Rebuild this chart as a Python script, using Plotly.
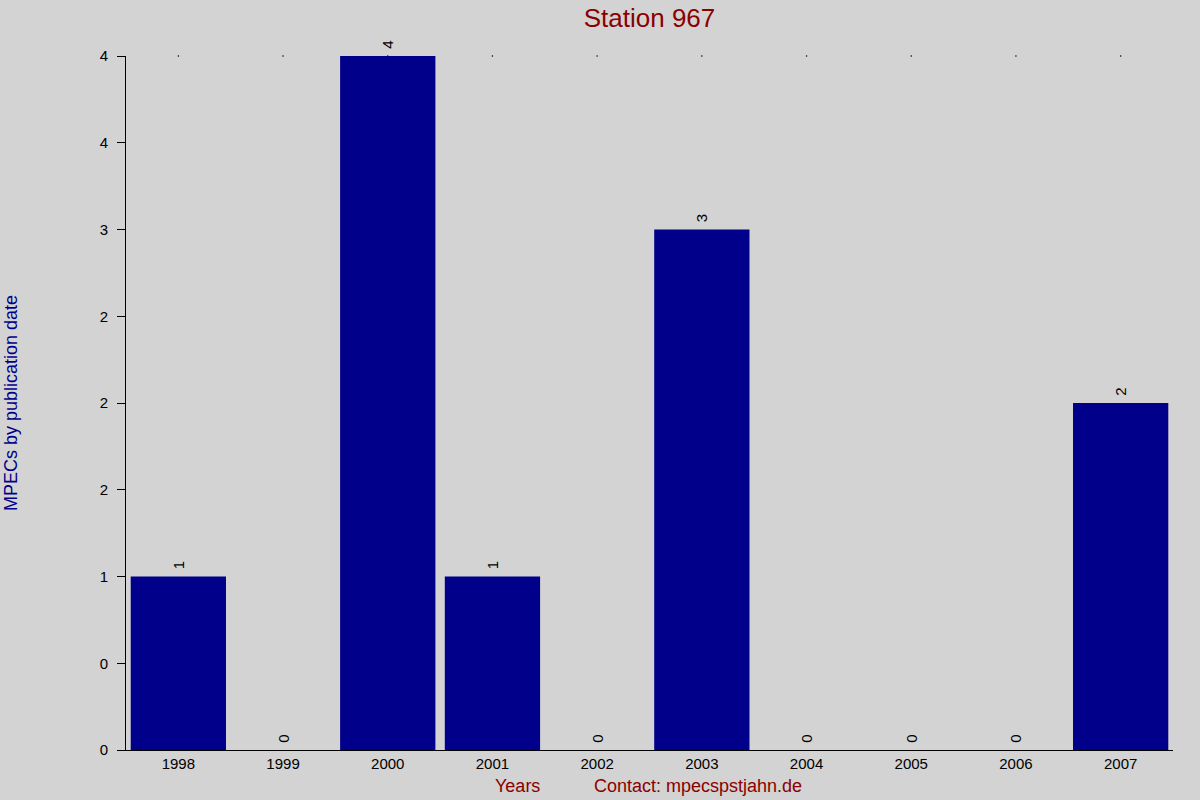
import plotly.graph_objects as go

# MPECs per year for station 967
years = ["1998", "1999", "2000", "2001", "2002", "2003", "2004", "2005", "2006", "2007"]
mpecs = [1, 0, 4, 1, 0, 3, 0, 0, 0, 2]

# y ticks every half unit, labels rounded as in the original
tick_vals = [0, 0.5, 1, 1.5, 2, 2.5, 3, 3.5, 4]
tick_text = ["0", "0", "1", "2", "2", "2", "3", "4", "4"]

bg = "#D3D3D3"
font = "Liberation Sans, Arial, sans-serif"

fig = go.Figure()

fig.add_trace(go.Bar(
    x=years,
    y=mpecs,
    marker=dict(color="#00008B", line=dict(width=0)),
    width=0.91,
    # leading non-breaking space gives a small gap above the bar
    texttemplate="\u00a0%{y}",
    textposition="outside",
    textangle=-90,
    constraintext="none",
    textfont=dict(family=font, size=15, color="black"),
    cliponaxis=False,
    hoverinfo="x+y",
))

# small dots along the top edge at each category
fig.add_trace(go.Scatter(
    x=years,
    y=[max(mpecs)] * len(years),
    mode="markers",
    marker=dict(color="black", size=1.5),
    hoverinfo="skip",
    cliponaxis=False,
))

fig.update_layout(
    width=1200,
    height=800,
    paper_bgcolor=bg,
    plot_bgcolor=bg,
    showlegend=False,
    margin=dict(l=126, r=27, t=56, b=50),
    font=dict(family=font, size=15, color="black"),
    title=dict(
        text="Station 967",
        x=(126 + 1173) / 2 / 1200,
        xanchor="center",
        y=1 - 18 / 800,
        yanchor="middle",
        font=dict(family=font, size=26, color="#8B0000"),
    ),
    xaxis=dict(
        type="category",
        range=[-0.5, 9.5],
        showgrid=False,
        showline=True,
        linecolor="black",
        linewidth=1,
        ticks="",
        tickfont=dict(size=15, color="black"),
        fixedrange=True,
    ),
    yaxis=dict(
        range=[0, 4],
        tickvals=tick_vals,
        ticktext=tick_text,
        showgrid=False,
        zeroline=False,
        showline=True,
        linecolor="black",
        linewidth=1,
        ticks="outside",
        ticklen=8,
        tickcolor="black",
        ticklabelstandoff=6,
        tickfont=dict(size=15, color="black"),
        fixedrange=True,
    ),
    annotations=[
        dict(text="MPECs by publication date", xref="paper", yref="paper",
             x=(11 - 126) / 1047, y=0.5, xanchor="center", yanchor="middle",
             textangle=-90, showarrow=False,
             font=dict(family=font, size=18, color="#00008B")),
        dict(text="Years", xref="paper", yref="paper",
             x=(517 - 126) / 1047, y=-(786 - 750) / 694,
             xanchor="center", yanchor="middle", showarrow=False,
             font=dict(family=font, size=18, color="#8B0000")),
        dict(text="Contact: mpecspstjahn.de", xref="paper", yref="paper",
             x=(698 - 126) / 1047, y=-(786 - 750) / 694,
             xanchor="center", yanchor="middle", showarrow=False,
             font=dict(family=font, size=18, color="#8B0000")),
    ],
)

# drop the page's default body margin so the chart sits at the corner
fig.write_html(
    "out.html",
    config={"displayModeBar": False},
    post_script="document.body.style.margin='0';",
)
